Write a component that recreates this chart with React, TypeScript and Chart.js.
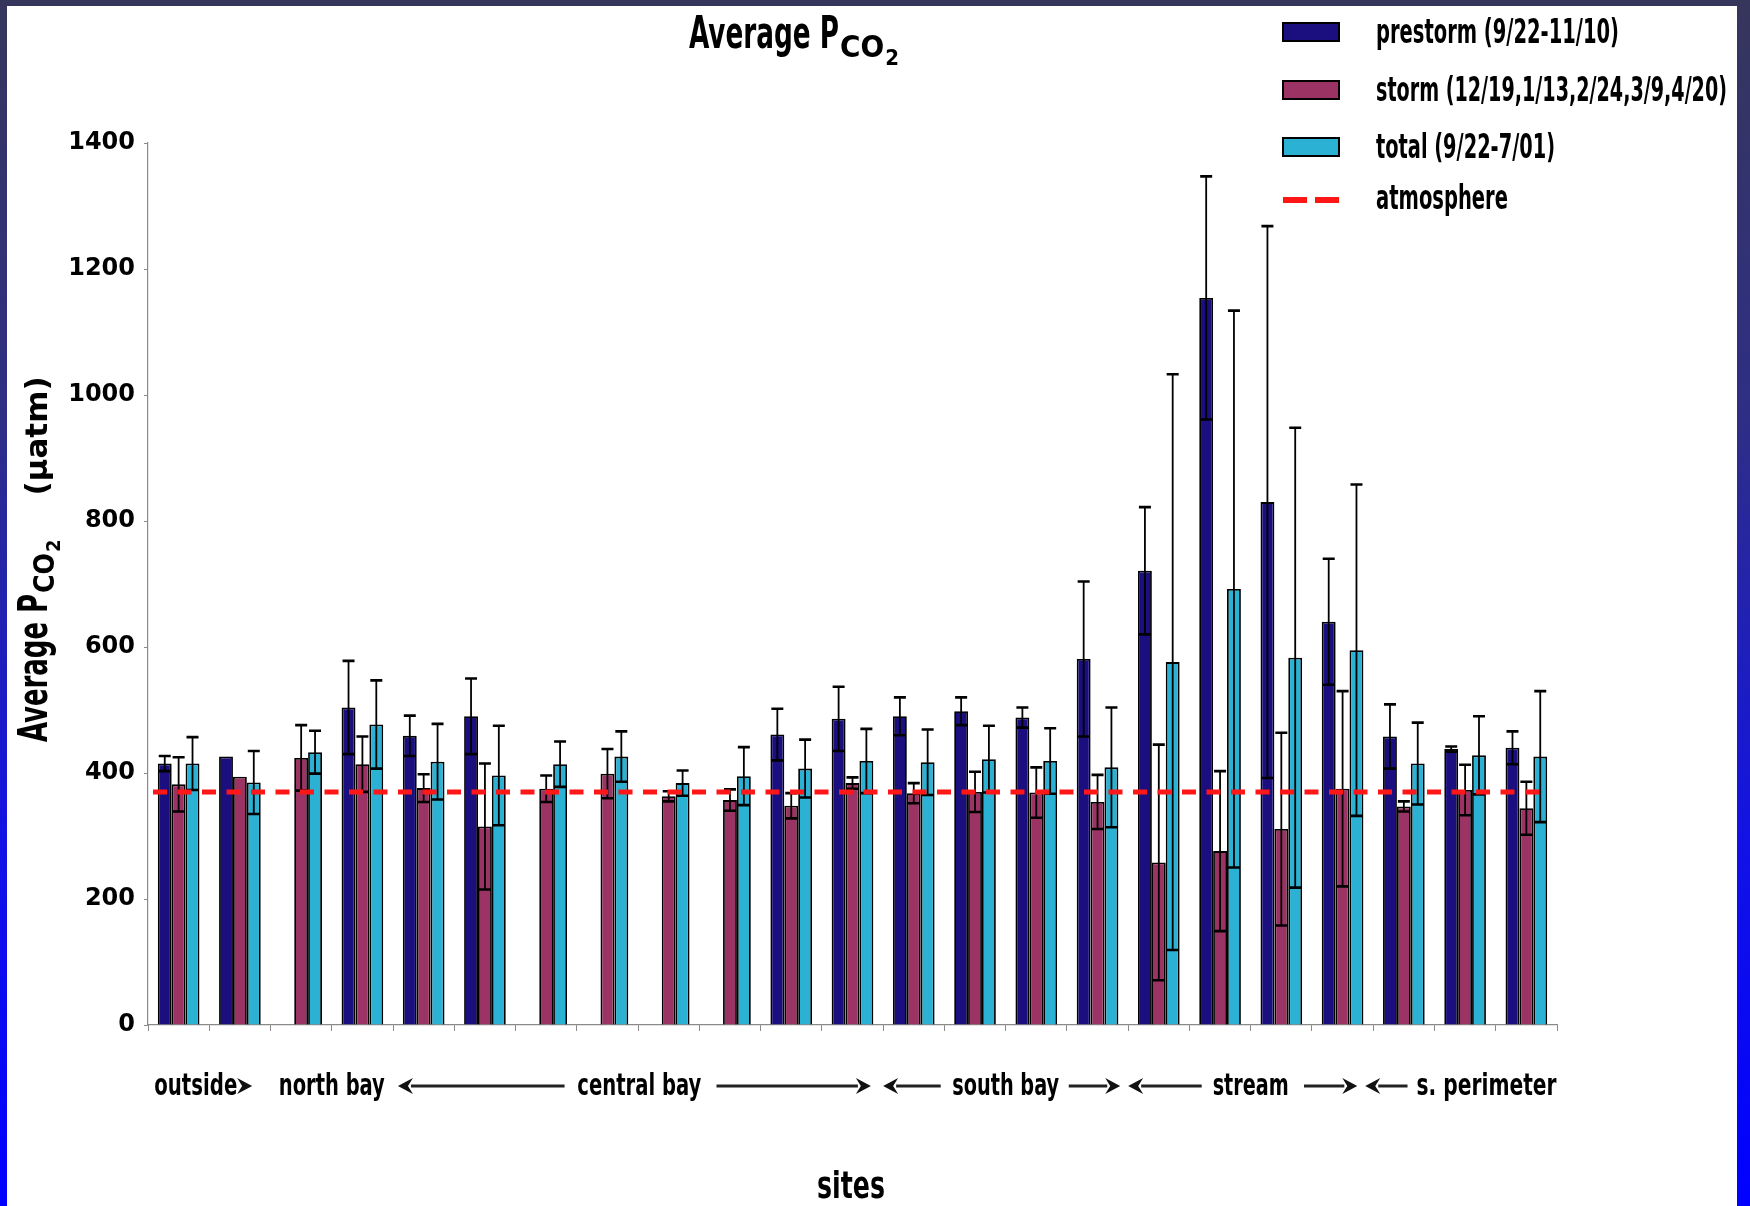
import { useEffect, useRef } from "react";
import { Chart, registerables } from "chart.js";

Chart.register(...registerables);

// ---- data -------------------------------------------------------------
const siteIds = [
  "1", "2", "3", "4", "5", "6", "7", "8", "9", "10", "11", "12",
  "13", "14", "15", "16", "17", "18", "19", "20", "21", "22", "23",
];

const prestorm = [415, 426, null, 504, 459, 490, null, null, null, null, 461, 486, 490, 498, 488, 581, 721, 1154, 830, 640, 458, 438, 440];
const prestormSd = [12, 0, null, 74, 32, 60, null, null, null, null, 41, 51, 30, 22, 16, 123, 101, 193, 438, 100, 51, 4, 26];

const storm = [382, 394, 424, 414, 376, 315, 375, 399, 363, 357, 348, 384, 368, 370, 369, 354, 258, 276, 311, 375, 347, 373, 344];
const stormSd = [43, 0, 52, 44, 22, 100, 21, 39, 8, 17, 20, 9, 16, 32, 40, 43, 187, 127, 153, 155, 8, 40, 42];

const total = [415, 385, 433, 477, 418, 396, 414, 426, 384, 395, 407, 419, 417, 422, 419, 409, 576, 692, 583, 595, 415, 428, 426];
const totalSd = [42, 50, 34, 70, 60, 79, 36, 40, 20, 46, 46, 51, 52, 53, 52, 95, 457, 442, 365, 263, 65, 62, 104];

const atmosphere = 370;

const seriesNames = [
  "prestorm (9/22-11/10)",
  "storm (12/19,1/13,2/24,3/9,4/20)",
  "total (9/22-7/01)",
];
const atmosphereName = "atmosphere";
const regionNames = ["outside", "north bay", "central bay", "south bay", "stream", "s. perimeter"];

// ---- styling -------------------------------------------------------------
const COLORS = ["#1b0f80", "#9b3465", "#2ab1d3"];
const ERRORS = [prestormSd, stormSd, totalSd];
const NARROW = '"Liberation Sans Narrow", "DejaVu Sans Condensed", "Arial Narrow", sans-serif';
const WIDE = '"DejaVu Sans", Verdana, sans-serif';
const RED = "#ff1616";

function drawArrow(ctx: CanvasRenderingContext2D, tail: number, tip: number, y: number, shaft = true) {
  const dir = Math.sign(tip - tail);
  const headLen = 15;
  const half = 8;
  const notch = 5;
  ctx.save();
  ctx.fillStyle = "#111";
  ctx.strokeStyle = "#222";
  if (shaft) {
    ctx.lineWidth = 3;
    ctx.beginPath();
    ctx.moveTo(tail, y);
    ctx.lineTo(tip - dir * (headLen - 2), y);
    ctx.stroke();
  }
  ctx.beginPath();
  ctx.moveTo(tip, y);
  ctx.lineTo(tip - dir * headLen, y - half);
  ctx.lineTo(tip - dir * (headLen - notch), y);
  ctx.lineTo(tip - dir * headLen, y + half);
  ctx.closePath();
  ctx.fill();
  ctx.restore();
}

const decorations = {
  id: "decorations",
  afterDatasetsDraw(chart: any) {
    const { ctx, scales, chartArea } = chart;
    const ys = scales.y;
    // error bars
    ctx.save();
    ctx.strokeStyle = "#000";
    for (let d = 0; d < 3; d++) {
      const meta = chart.getDatasetMeta(d);
      const vals = chart.data.datasets[d].data;
      const errs = ERRORS[d];
      meta.data.forEach((bar: any, i: number) => {
        const v = vals[i];
        const e = errs[i];
        if (v == null || !e) return;
        const x = bar.x;
        const yt = ys.getPixelForValue(v + e);
        const yb = ys.getPixelForValue(v - e);
        ctx.lineWidth = 1.8;
        ctx.beginPath();
        ctx.moveTo(x, yt);
        ctx.lineTo(x, yb);
        ctx.stroke();
        ctx.lineWidth = 2.6;
        ctx.beginPath();
        ctx.moveTo(x - 6, yt);
        ctx.lineTo(x + 6, yt);
        ctx.moveTo(x - 6, yb);
        ctx.lineTo(x + 6, yb);
        ctx.stroke();
      });
    }
    // atmospheric reference line
    const ya = ys.getPixelForValue(atmosphere);
    ctx.strokeStyle = RED;
    ctx.lineWidth = 5;
    ctx.setLineDash([14, 10.5]);
    ctx.beginPath();
    ctx.moveTo(chartArea.left + 5, ya);
    ctx.lineTo(chartArea.right - 15, ya);
    ctx.stroke();
    ctx.restore();
  },
  afterDraw(chart: any) {
    const { ctx, chartArea } = chart;
    ctx.save();
    ctx.fillStyle = "#000";
    ctx.textAlign = "left";
    ctx.textBaseline = "alphabetic";

    // title
    let tx = 689;
    ctx.font = `bold 44px ${NARROW}`;
    ctx.fillText("Average P", tx, 48, 150);
    tx += Math.min(ctx.measureText("Average P").width, 150) + 1;
    ctx.font = `bold 31px ${NARROW}`;
    ctx.fillText("CO", tx, 57, 50);
    tx += Math.min(ctx.measureText("CO").width, 50) + 1;
    ctx.font = `bold 22px ${NARROW}`;
    ctx.fillText("2", tx, 65);

    // legend
    const rows = [32, 90, 147];
    rows.forEach((ry, i) => {
      ctx.fillStyle = COLORS[i];
      ctx.fillRect(1283, ry - 9, 56, 18);
      ctx.strokeStyle = "#000";
      ctx.lineWidth = 2;
      ctx.strokeRect(1283, ry - 9, 56, 18);
      ctx.fillStyle = "#000";
      ctx.font = `bold 33px ${NARROW}`;
      ctx.fillText(seriesNames[i], 1376, ry + 11, [243, 351, 179][i]);
    });
    ctx.fillStyle = RED;
    ctx.fillRect(1283, 197, 24, 6);
    ctx.fillRect(1315, 197, 24, 6);
    ctx.fillStyle = "#000";
    ctx.fillText(atmosphereName, 1376, 209, 132);

    // y axis title
    ctx.save();
    ctx.translate(47, 742);
    ctx.rotate(-Math.PI / 2);
    let lx = 0;
    ctx.font = `bold 40px ${NARROW}`;
    ctx.fillText("Average P", lx, 0, 148);
    lx += Math.min(ctx.measureText("Average P").width, 148) + 1;
    ctx.font = `bold 28px ${NARROW}`;
    ctx.fillText("CO", lx, 7, 40);
    lx += Math.min(ctx.measureText("CO").width, 40) + 1;
    ctx.font = `bold 20px ${NARROW}`;
    ctx.fillText("2", lx, 13);
    lx += ctx.measureText("2").width + 44;
    ctx.font = `bold 31px ${WIDE}`;
    ctx.fillText("(\u00b5atm)", lx, 0);
    ctx.restore();

    // site region labels along the x axis
    const cw = (chartArea.right - chartArea.left) / siteIds.length;
    const at = (k: number) => chartArea.left + k * cw;
    const labelY = 1095;
    const arrowY = 1086;
    ctx.font = `bold 31px ${NARROW}`;
    ctx.textAlign = "center";
    const centers = [0.78, 3.0, 8.02, 14.0, 18.0, 21.85];
    const widths = [83, 106, 124, 107, 76, 140];
    regionNames.forEach((name, i) => ctx.fillText(name, at(centers[i]), labelY, widths[i]));
    drawArrow(ctx, at(1.45), at(1.7), arrowY, false);
    drawArrow(ctx, at(6.8), at(4.08), arrowY);
    drawArrow(ctx, at(9.28), at(11.8), arrowY);
    drawArrow(ctx, at(12.94), at(12.0), arrowY);
    drawArrow(ctx, at(15.03), at(15.87), arrowY);
    drawArrow(ctx, at(17.2), at(16.0), arrowY);
    drawArrow(ctx, at(18.87), at(19.74), arrowY);
    drawArrow(ctx, at(20.56), at(19.87), arrowY);

    // x axis title
    ctx.font = `bold 38px ${NARROW}`;
    ctx.fillText("sites", 851, 1198, 68);
    ctx.restore();
  },
};

export default function App() {
  const ref = useRef<HTMLCanvasElement | null>(null);

  useEffect(() => {
    if (!ref.current) return;
    const datasets = [prestorm, storm, total].map((data, i) => ({
      label: seriesNames[i],
      data,
      backgroundColor: COLORS[i],
      borderColor: "#000",
      borderWidth: 1.8,
      categoryPercentage: 0.68,
      barPercentage: 1.0,
    }));
    const chart = new Chart(ref.current, {
      type: "bar",
      data: { labels: siteIds, datasets },
      options: {
        responsive: false,
        animation: false,
        events: [],
        layout: { padding: { left: 0, top: 143, right: 193, bottom: 0 } },
        plugins: {
          legend: { display: false },
          title: { display: false },
          tooltip: { enabled: false },
        },
        scales: {
          x: {
            grid: { display: true, drawOnChartArea: false, drawTicks: true, tickLength: 6, color: "#8a8a8a", offset: true },
            border: { display: true, color: "#8a8a8a", width: 1.2 },
            ticks: { display: false },
            afterFit: (s: any) => { s.height = 181; },
          },
          y: {
            min: 0,
            max: 1400,
            ticks: {
              stepSize: 200,
              color: "#000",
              padding: 9,
              callback: (v: any) => String(v),
              font: { family: WIDE, weight: "bold", size: 24 },
            },
            grid: { display: true, drawOnChartArea: false, drawTicks: true, tickLength: 4, color: "#8a8a8a" },
            border: { display: true, color: "#8a8a8a", width: 1.2 },
            afterFit: (s: any) => { s.width = 148; },
          },
        },
      },
      plugins: [decorations],
    } as any);
    return () => chart.destroy();
  }, []);

  return (
    <div
      style={{
        position: "fixed",
        left: 0,
        top: 0,
        width: 1750,
        height: 1206,
        background: "linear-gradient(to bottom, #36365c 0%, #2e2e86 35%, #1212e6 70%, #0000ff 100%)",
      }}
    >
      <div style={{ position: "absolute", left: 7, top: 6, width: 1730, height: 1200, background: "#fff" }} />
      <canvas ref={ref} width={1750} height={1206} style={{ position: "absolute", left: 0, top: 0 }} />
    </div>
  );
}
